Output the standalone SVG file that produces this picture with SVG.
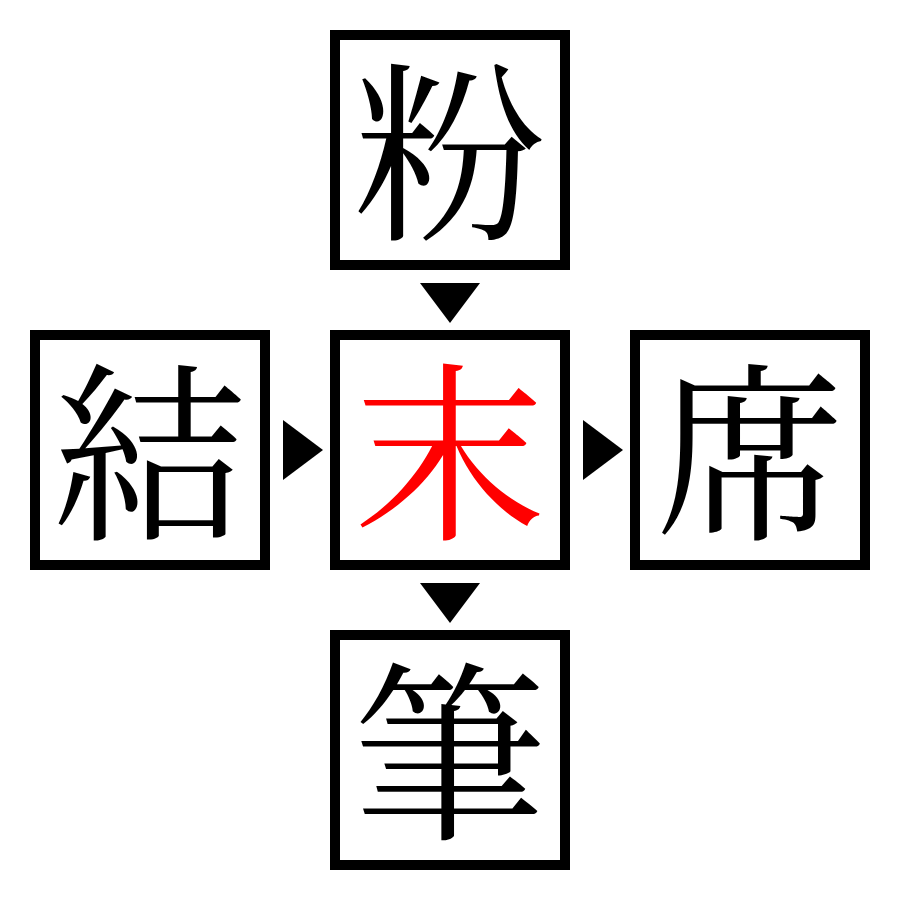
<svg xmlns="http://www.w3.org/2000/svg" width="900" height="900" viewBox="0 0 900 900">
<style>
.box{fill:#fff;stroke:#000;stroke-width:10}
.t{font-family:"Noto Serif CJK JP","Noto Sans CJK JP",serif;font-size:192px;text-anchor:middle;dominant-baseline:central;fill:#000}
.arr{fill:#000}
</style>
<rect width="900" height="900" fill="#fff"/>
<g id="n-top"><rect class="box" x="335" y="35" width="230" height="230"/><text class="t" x="450" y="142">粉</text></g>
<g id="n-left"><rect class="box" x="35" y="335" width="230" height="230"/><text class="t" x="150" y="442">結</text></g>
<g id="n-center"><rect class="box" x="335" y="335" width="230" height="230"/><text class="t" x="450" y="442" style="fill:#f00">末</text></g>
<g id="n-right"><rect class="box" x="635" y="335" width="230" height="230"/><text class="t" x="750" y="442">席</text></g>
<g id="n-bottom"><rect class="box" x="335" y="635" width="230" height="230"/><text class="t" x="450" y="742">筆</text></g>
<g id="connectors">
<polygon class="arr" points="420,283 480,283 450,323"/>
<polygon class="arr" points="283,420 323,450 283,480"/>
<polygon class="arr" points="583,420 623,450 583,480"/>
<polygon class="arr" points="420,583 480,583 450,623"/>
</g>
</svg>
